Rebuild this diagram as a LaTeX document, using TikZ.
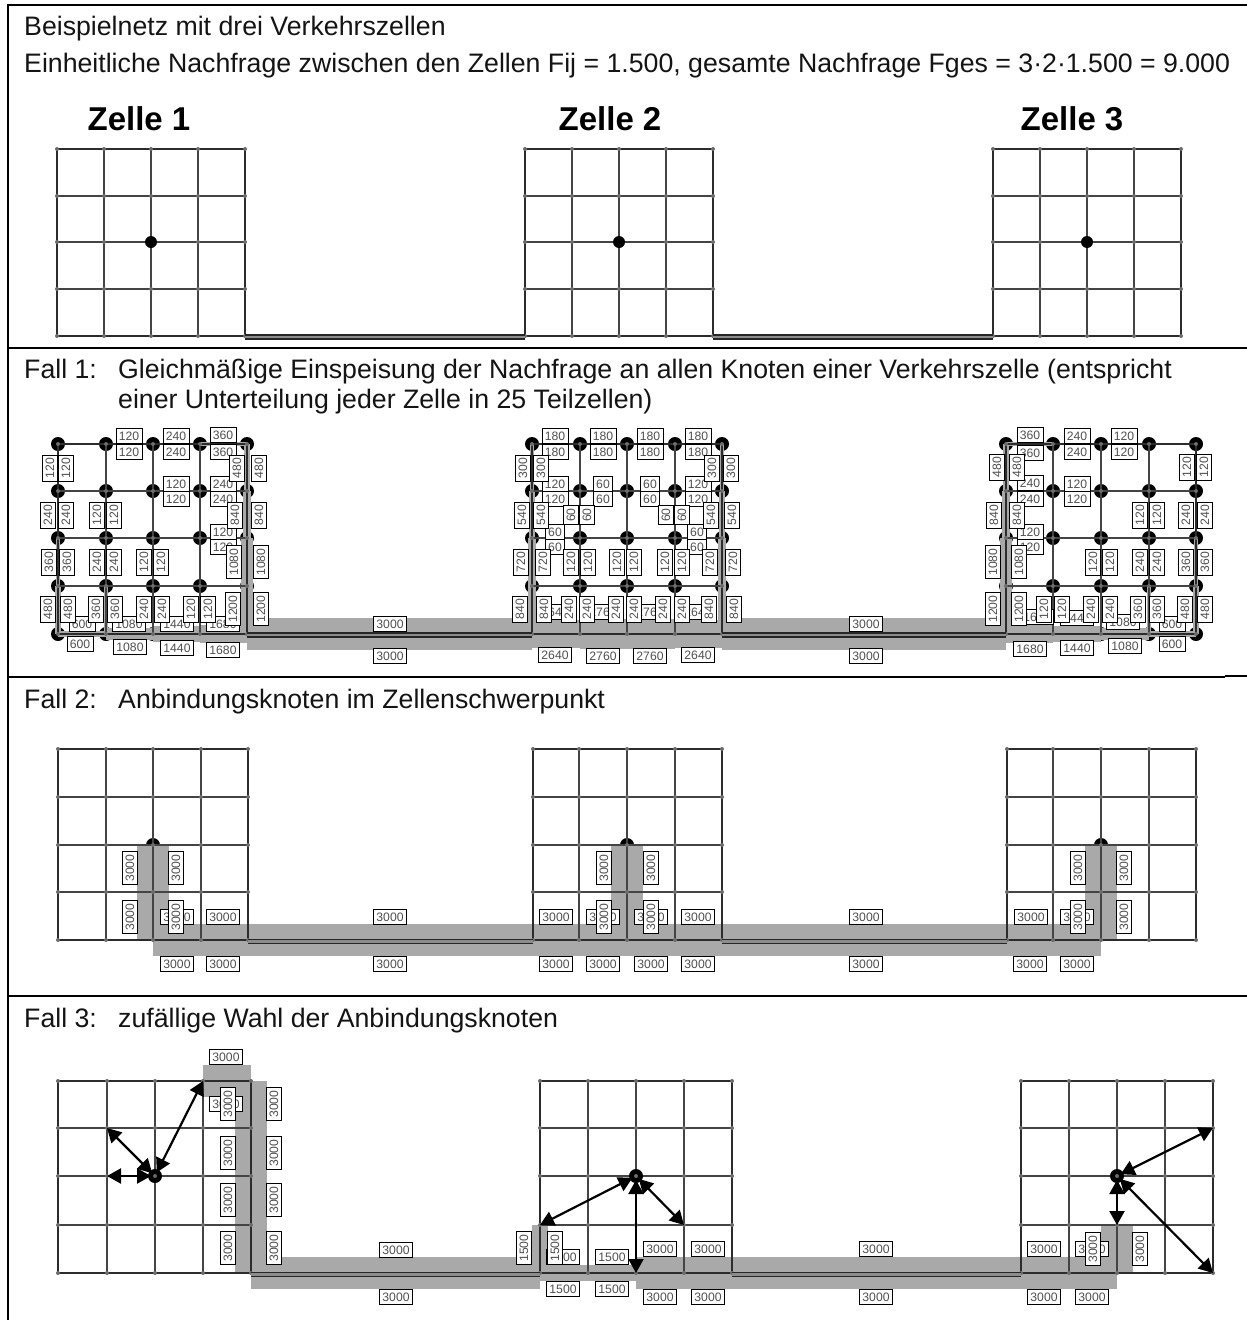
\documentclass[tikz,border=0pt]{standalone}
\usepackage{fontspec}
\setmainfont{Liberation Sans}
\usetikzlibrary{calc,arrows.meta}
\definecolor{bandc}{HTML}{A9A9A9}
\definecolor{gridc}{HTML}{444444}
\definecolor{outerc}{HTML}{2C2C2C}
\definecolor{labc}{HTML}{505050}
\newcount\labn
\tikzset{
  frameline/.style={line width=2pt,black},
  bandfill/.style={fill=bandc,draw=none},
  innerline/.style={line width=1.1pt,gridc},
  outerline/.style={line width=2.4pt,outerc},
  gnode/.style={circle,fill=gray!85!black,inner sep=0pt,minimum size=4pt},
  bigdot/.style={circle,fill=black,inner sep=0pt,minimum size=14pt},
  conn/.style={line width=1.6pt,draw=black!85,double=gray!90,double distance=2.4pt},
  lab/.style={draw=black,line width=0.7pt,fill=white,text=labc,inner xsep=2.8pt,inner ysep=0pt,minimum height=15pt,font=\fontsize{12.2}{12}\selectfont},
  arr/.style={line width=2.2pt,black,{Triangle[length=14pt,width=15pt]}-{Triangle[length=14pt,width=15pt]}},
  maintext/.style={anchor=base west,inner sep=0pt,text=black!92,font=\fontsize{26.7}{28}\selectfont},
  celltitle/.style={anchor=base,inner sep=0pt,font=\fontsize{33}{34}\bfseries\selectfont}
}
\newcommand{\gridat}[3]{%
  \foreach \xx [count=\i from 0] in {#2}
    \foreach \yy [count=\j from 0] in {#3}
      \coordinate (#1-\i-\j) at (\xx,\yy);}
\newcommand{\gridlines}[1]{%
  \foreach \k in {1,2,3}{
    \draw[innerline] (#1-\k-0) -- (#1-\k-4);
    \draw[innerline] (#1-0-\k) -- (#1-4-\k);}
  \draw[outerline,line join=miter] (#1-0-0) -- (#1-4-0) -- (#1-4-4) -- (#1-0-4) -- cycle;
  \foreach \i in {0,...,4}
    \foreach \j in {0,...,4}
      \node[gnode] (#1g-\i-\j) at (#1-\i-\j) {};}
\newcommand{\alldots}[1]{%
  \foreach \i in {0,...,4}
    \foreach \j in {0,...,4}
      \node[bigdot] (#1d-\i-\j) at (#1-\i-\j) {};}
\newcommand{\hb}[3]{\pgfmathsetmacro\bandt{#3/3000*16}\fill[bandfill] ($(#1)+(0,-\bandt)$) rectangle ($(#2)+(0,\bandt)$);}
\newcommand{\vb}[3]{\pgfmathsetmacro\bandt{#3/3000*16}\fill[bandfill] ($(#1)+(-\bandt,0)$) rectangle ($(#2)+(\bandt,0)$);}
\newcommand{\lh}[3]{\global\advance\labn by 1 \node[lab] (lab\the\labn) at (#1,#2) {#3};}
\newcommand{\lv}[3]{\global\advance\labn by 1 \node[lab,rotate=90] (lab\the\labn) at (#1,#2) {#3};}
\begin{document}
\begin{tikzpicture}[x=1pt,y=-1pt]
\useasboundingbox (0,0) rectangle (1247,1320);
\fill[white] (0,0) rectangle (1247,1320);
% frame
\coordinate (fTL) at (8,5); \coordinate (fTR) at (1247,5);
\coordinate (fBL) at (8,1320);
\draw[frameline] (fTR) -- (fTL) -- (fBL);
\coordinate (f1) at (8,348); \coordinate (f1r) at (1247,348);
\coordinate (f2) at (8,677); \coordinate (f2r) at (1225,677);
\coordinate (f2a) at (1225,676); \coordinate (f2b) at (1247,676);
\coordinate (f3) at (8,996); \coordinate (f3r) at (1247,996);
\draw[frameline] (f1) -- (f1r);
\draw[line width=1.4pt,black] (f2) -- (f2r);
\draw[frameline] (f2a) -- (f2b);
\draw[frameline] (f3) -- (f3r);
% texts
\node[maintext] (t1) at (24,35) {Beispielnetz mit drei Verkehrszellen};
\node[maintext] (t2) at (24,72) {Einheitliche Nachfrage zwischen den Zellen Fij = 1.500, gesamte Nachfrage Fges = 3·2·1.500 = 9.000};
\node[celltitle] (z1) at (139,130) {Zelle 1};
\node[celltitle] (z2) at (610,130) {Zelle 2};
\node[celltitle] (z3) at (1072,130) {Zelle 3};
\node[maintext] (t3) at (24,378) {Fall 1:};
\node[maintext] (t4) at (118,378) {Gleichmäßige Einspeisung der Nachfrage an allen Knoten einer Verkehrszelle (entspricht};
\node[maintext] (t5) at (118,408) {einer Unterteilung jeder Zelle in 25 Teilzellen)};
\node[maintext] (t6) at (24,708) {Fall 2:};
\node[maintext] (t7) at (118,708) {Anbindungsknoten im Zellenschwerpunkt};
\node[maintext] (t8) at (24,1027) {Fall 3:};
\node[maintext] (t9) at (118,1027) {zufällige Wahl der Anbindungsknoten};

% ---------- top panel
\gridat{A}{57,104,151,198,245}{149,196,242,289,336}
\gridat{B}{525,572,619,666,713}{149,196,242,289,336}
\gridat{C}{993,1040,1087,1134,1181}{149,196,242,289,336}
\foreach \n in {A,B,C}{\gridlines{\n}}
\draw[conn] (A-4-4) ++(0,1) -- ($(B-0-4)+(0,1)$);
\draw[conn] (B-4-4) ++(0,1) -- ($(C-0-4)+(0,1)$);
\node[bigdot,minimum size=12pt] (ad) at (A-2-2) {};
\node[bigdot,minimum size=12pt] (bd) at (B-2-2) {};
\node[bigdot,minimum size=12pt] (cd) at (C-2-2) {};

% ---------- Fall 1
\gridat{D}{58,106,153,200,247}{444,491,538,586,634}
\gridat{E}{532,580,627,675,722}{444,491,538,586,634}
\gridat{F}{1006,1053,1101,1149,1196}{444,491,538,586,634}
\alldots{D}\alldots{E}\alldots{F}
\foreach \a/\b/\v in {D-1-0/D-2-0/120,D-2-0/D-3-0/240,D-3-0/D-4-0/360,D-2-1/D-3-1/120,D-3-1/D-4-1/240,D-3-2/D-4-2/120,
 D-0-4/D-1-4/600,D-1-4/D-2-4/1080,D-2-4/D-3-4/1440,D-3-4/D-4-4/1680,
 D-4-4/E-0-4/3000,E-4-4/F-0-4/3000,
 E-0-0/E-1-0/180,E-1-0/E-2-0/180,E-2-0/E-3-0/180,E-3-0/E-4-0/180,E-0-1/E-1-1/120,E-1-1/E-2-1/60,E-2-1/E-3-1/60,E-3-1/E-4-1/120,E-0-2/E-1-2/60,E-3-2/E-4-2/60,
 E-0-4/E-1-4/2640,E-1-4/E-2-4/2760,E-2-4/E-3-4/2760,E-3-4/E-4-4/2640,
 F-0-0/F-1-0/360,F-1-0/F-2-0/240,F-2-0/F-3-0/120,F-0-1/F-1-1/240,F-1-1/F-2-1/120,F-0-2/F-1-2/120,
 F-0-4/F-1-4/1680,F-1-4/F-2-4/1440,F-2-4/F-3-4/1080,F-3-4/F-4-4/600}{\hb{\a}{\b}{\v}}
\foreach \a/\b/\v in {D-0-0/D-0-1/120,D-0-1/D-0-2/240,D-0-2/D-0-3/360,D-0-3/D-0-4/480,D-1-1/D-1-2/120,D-1-2/D-1-3/240,D-1-3/D-1-4/360,D-2-2/D-2-3/120,D-2-3/D-2-4/240,D-3-3/D-3-4/120,
 D-4-0/D-4-1/480,D-4-1/D-4-2/840,D-4-2/D-4-3/1080,D-4-3/D-4-4/1200,
 E-0-0/E-0-1/300,E-0-1/E-0-2/540,E-0-2/E-0-3/720,E-0-3/E-0-4/840,E-1-1/E-1-2/60,E-1-2/E-1-3/120,E-1-3/E-1-4/240,E-2-2/E-2-3/120,E-2-3/E-2-4/240,E-3-1/E-3-2/60,E-3-2/E-3-3/120,E-3-3/E-3-4/240,
 E-4-0/E-4-1/300,E-4-1/E-4-2/540,E-4-2/E-4-3/720,E-4-3/E-4-4/840,
 F-0-0/F-0-1/480,F-0-1/F-0-2/840,F-0-2/F-0-3/1080,F-0-3/F-0-4/1200,F-1-3/F-1-4/120,F-2-2/F-2-3/120,F-2-3/F-2-4/240,F-3-1/F-3-2/120,F-3-2/F-3-3/240,F-3-3/F-3-4/360,
 F-4-0/F-4-1/120,F-4-1/F-4-2/240,F-4-2/F-4-3/360,F-4-3/F-4-4/480}{\vb{\a}{\b}{\v}}
\foreach \n in {D,E,F}{\gridlines{\n}}
\draw[conn] (D-4-4) ++(0,1) -- ($(E-0-4)+(0,1)$);
\draw[conn] (E-4-4) ++(0,1) -- ($(F-0-4)+(0,1)$);
\foreach \x/\y/\t in {
 82/624/600,129/624/1080,177/624/1440,223/624/1680,
 80/644/600,130/647/1080,177/648/1440,223/650/1680,
 129/436/120,176/436/240,223/435/360,129/452/120,176/452/240,223/452/360,
 176/484/120,223/484/240,176/499/120,223/499/240,223/532/120,223/547/120,
 390/624/3000,390/656/3000,866/624/3000,866/656/3000,
 555/612/2640,603/612/2760,650/612/2760,698/612/2640,
 555/655/2640,603/656/2760,650/656/2760,698/655/2640,
 555/436/180,603/436/180,650/436/180,698/436/180,555/452/180,603/452/180,650/452/180,698/452/180,
 555/484/120,603/484/60,650/484/60,698/484/120,555/499/120,603/499/60,650/499/60,698/499/120,
 555/532/60,697/532/60,555/547/60,697/547/60,
 1030/435/360,1077/436/240,1124/436/120,1030/453/360,1077/452/240,1124/452/120,
 1030/483/240,1077/484/120,1030/499/240,1077/499/120,1030/532/120,1030/547/120,
 1037/617/1680,1077/618/1440,1123/622/1080,1172/624/600,
 1030/649/1680,1077/648/1440,1125/646/1080,1172/644/600}{\lh{\x}{\y}{\t}}
\foreach \x/\y/\t in {
 50/468/120,66/468/120,48/515/240,66/515/240,49/562/360,67/562/360,48/609/480,68/609/480,
 97/515/120,114/515/120,97/562/240,114/562/240,96/609/360,115/609/360,
 144/562/120,161/562/120,144/609/240,162/609/240,191/609/120,208/609/120,
 237/468/480,259/468/480,235/515/840,259/515/840,234/562/1080,261/562/1080,233/609/1200,261/609/1200,
 523/468/300,541/468/300,522/515/540,541/515/540,521/562/720,543/562/720,520/609/840,544/609/840,
 571/515/60,587/515/60,571/562/120,588/562/120,569/609/240,587/609/240,
 617/562/120,634/562/120,616/609/240,634/609/240,
 666/515/60,682/515/60,665/562/120,682/562/120,663/609/240,682/609/240,
 712/468/300,731/468/300,711/515/540,732/515/540,710/562/720,733/562/720,709/609/840,734/609/840,
 997/467/480,1017/467/480,994/515/840,1017/515/840,993/562/1080,1019/562/1080,993/609/1200,1019/609/1200,
 1044/609/120,1062/609/120,1093/562/120,1110/562/120,1091/609/240,1110/609/240,
 1140/515/120,1157/515/120,1140/562/240,1157/562/240,1138/609/360,1157/609/360,
 1187/467/120,1204/467/120,1186/515/240,1205/515/240,1186/562/360,1205/562/360,1185/609/480,1205/609/480}{\lv{\x}{\y}{\t}}

% ---------- Fall 2
\gridat{G}{58,106,153,201,248}{749,797,845,892,940}
\gridat{H}{533,579,627,675,722}{749,797,845,892,940}
\gridat{I}{1007,1053,1101,1149,1196}{749,797,845,892,940}
\node[bigdot] (gd) at (G-2-2) {};
\node[bigdot] (hd) at (H-2-2) {};
\node[bigdot] (id) at (I-2-2) {};
\foreach \a/\b in {G-2-2/G-2-3,G-2-3/G-2-4,H-2-2/H-2-3,H-2-3/H-2-4,I-2-2/I-2-3,I-2-3/I-2-4}{\vb{\a}{\b}{3000}}
\foreach \a/\b in {G-2-4/G-3-4,G-3-4/G-4-4,G-4-4/H-0-4,H-0-4/H-1-4,H-1-4/H-2-4,H-2-4/H-3-4,H-3-4/H-4-4,H-4-4/I-0-4,I-0-4/I-1-4,I-1-4/I-2-4}{\hb{\a}{\b}{3000}}
\foreach \n in {G,H,I}{\gridlines{\n}}
\draw[conn] (G-4-4) ++(0,1.5) -- ($(H-0-4)+(0,1.5)$);
\draw[conn] (H-4-4) ++(0,1.5) -- ($(I-0-4)+(0,1.5)$);
\foreach \x/\y in {177/917,223/917,177/964,223/964,390/917,390/964,556/917,603/917,651/917,698/917,556/964,603/964,651/964,698/964,866/917,866/964,1031/917,1077/917,1030/964,1077/964}{\lh{\x}{\y}{3000}}
\foreach \x/\y in {130/868,176/868,130/917,176/917,604/868,651/868,604/917,651/917,1078/868,1124/868,1078/917,1124/917}{\lv{\x}{\y}{3000}}

% ---------- Fall 3
\gridat{J}{58,107,155,203,251}{1081,1128,1176,1225,1273}
\gridat{K}{540,588,636,684,732}{1081,1128,1176,1225,1273}
\gridat{L}{1021,1069,1117,1165,1213}{1081,1128,1176,1225,1273}
\hb{J-3-0}{J-4-0}{3000}
\foreach \a/\b in {J-4-0/J-4-1,J-4-1/J-4-2,J-4-2/J-4-3,J-4-3/J-4-4,L-2-3/L-2-4}{\vb{\a}{\b}{3000}}
\foreach \a/\b in {J-4-4/K-0-4,K-2-4/K-3-4,K-3-4/K-4-4,K-4-4/L-0-4,L-0-4/L-1-4,L-1-4/L-2-4}{\hb{\a}{\b}{3000}}
\vb{K-0-3}{K-0-4}{1500}
\hb{K-0-4}{K-1-4}{1500}\hb{K-1-4}{K-2-4}{1500}
\foreach \n in {J,K,L}{\gridlines{\n}}
\draw[conn] (J-4-4) ++(0,1.5) -- ($(K-0-4)+(0,1.5)$);
\draw[conn] (K-4-4) ++(0,1.5) -- ($(L-0-4)+(0,1.5)$);
\draw[arr,shorten <=4pt] (J-2-2) -- (J-3-0);
\draw[arr,shorten <=4pt] (J-2-2) -- (J-1-1);
\draw[arr,shorten <=4pt] (J-2-2) -- (J-1-2);
\draw[arr,shorten <=4pt] (K-2-2) -- (K-0-3);
\draw[arr,shorten <=4pt] (K-2-2) -- (K-3-3);
\draw[arr,shorten <=4pt] (K-2-2) -- (K-2-4);
\draw[arr,shorten <=4pt] (L-2-2) -- (L-4-1);
\draw[arr,shorten <=4pt] (L-2-2) -- (L-4-4);
\draw[arr,shorten <=4pt] (L-2-2) -- (L-2-3);
\node[bigdot] (jd) at (J-2-2) {};
\node[bigdot] (kd) at (K-2-2) {};
\node[bigdot] (ld) at (L-2-2) {};
\node[gnode] (jc) at (J-2-2) {};
\node[gnode] (kc) at (K-2-2) {};
\node[gnode] (lc) at (L-2-2) {};
\foreach \x/\y/\t in {226/1057/3000,226/1104/3000,396/1250/3000,396/1297/3000,
 563/1257/1500,612/1257/1500,563/1289/1500,612/1289/1500,660/1249/3000,708/1249/3000,660/1297/3000,708/1297/3000,
 876/1249/3000,876/1297/3000,1044/1249/3000,1092/1249/3000,1044/1297/3000,1092/1297/3000}{\lh{\x}{\y}{\t}}
\foreach \x/\y/\t in {228/1104/3000,274/1104/3000,228/1153/3000,274/1153/3000,228/1200/3000,274/1200/3000,228/1248/3000,274/1248/3000,
 524/1248/1500,555/1248/1500,1093/1249/3000,1140/1249/3000}{\lv{\x}{\y}{\t}}
\end{tikzpicture}
\end{document}
